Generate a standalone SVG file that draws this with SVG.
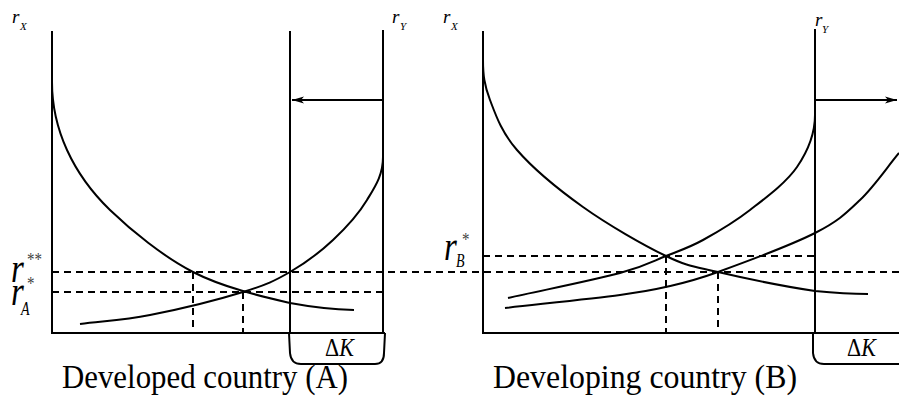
<svg xmlns="http://www.w3.org/2000/svg" width="899" height="405" viewBox="0 0 899 405">
<style>
.ax{stroke:#000;stroke-width:2;fill:none}
.cv{stroke:#000;stroke-width:2;fill:none}
.ds{stroke:#000;stroke-width:2;fill:none;stroke-dasharray:7 5}
.t{font-family:"Liberation Serif","Times New Roman",serif;fill:#000}
.i{font-style:italic}
.st{fill:#444;font-style:normal}
</style>
<defs>
<marker id="ah" markerUnits="userSpaceOnUse" markerWidth="14" markerHeight="10" refX="12" refY="5" orient="auto">
<path d="M12,5 L0,1.5 L3,5 L0,8.5 Z" fill="#000"/>
</marker>
</defs>
<rect width="899" height="405" fill="#fff"/>
<g id="panel-A">
<g id="axes-A">
<path class="ax" d="M52,31 V333 H385"/>
<path class="ax" d="M290,31 V333"/>
<path class="ax" d="M383,30 V333"/>
<path class="ax" d="M289,333 L290,353 Q291,364 301,364 L375,364 Q384,364 384,353 L385,333"/>
</g>
<g id="curves-A">
<path class="cv" d="M52,82 C52,107 57.3,128.7 67,150 C76.7,171.3 89,189.7 110,210 C131,230.3 163,256.5 193,272 C223,287.5 263.2,296.7 290,303 C316.8,308 335,309.5 354,310"/>
<path class="cv" d="M80,324 C103.3,321 122.8,320.3 150,315 C177.2,309.7 219.7,299.2 243,292 C266.3,284.8 275,280.7 290,272 C305,263.3 320.2,252 333,240 C345.8,228 358.7,213.8 367,200 C375.3,186.2 383,175 383,157"/>
</g>
<g id="dashes-A">
<path class="ds" d="M52,292 H383"/>
<path class="ds" d="M193,272 V333"/>
<path class="ds" d="M243,292 V333"/>
</g>
<g id="labels-A">
<text class="t i" x="12" y="23" font-size="19">r<tspan x="20" y="30" font-size="11">X</tspan></text>
<text class="t i" x="392" y="23" font-size="19">r<tspan x="400" y="30" font-size="11">Y</tspan></text>
<text class="t i" transform="translate(11,282) scale(1,1.3)" font-size="33">r<tspan class="st" x="16" y="-12.3" font-size="15">**</tspan><tspan x="0" y="17.7">r</tspan><tspan class="st" x="16" y="6" font-size="15">*</tspan><tspan x="10" y="25.4" font-size="14">A</tspan></text>
<text class="t" transform="translate(325,356) scale(1,1.1)" font-size="22">Δ<tspan class="i">K</tspan></text>
<text class="t" transform="translate(62,388) scale(1,1.3)" font-size="26" textLength="286" lengthAdjust="spacingAndGlyphs">Developed country (A)</text>
</g>
</g>
<g id="panel-B">
<g id="axes-B">
<path class="ax" d="M483,31 V333 H899"/>
<path class="ax" d="M815,29 V333"/>
<path class="ax" d="M813,333 L813,353 Q814,364 824,364 L899,364"/>
</g>
<g id="curves-B">
<path class="cv" d="M483,60 C483,75 484.3,85 490,100 C495.7,115 501.5,132.2 517,150 C532.5,167.8 558.2,189.3 583,207 C607.8,224.7 643.5,245.2 666,256 C688.5,266.8 693.2,266.2 718,272 C742.8,277.8 790,287.3 815,291 C835,293 855,294 868,294"/>
<path class="cv" d="M508,298 C545.3,289.7 593.7,280 620,273 C646.3,266 652.2,261.5 666,256 C679.8,250.5 689,247.7 703,240 C717,232.3 734.3,222.2 750,210 C765.7,197.8 786.2,182.8 797,167 C807.8,151.2 815,135 815,115"/>
<path class="cv" d="M505,308 C543.3,303.7 593.2,298.5 620,295 C646.8,291.5 649.7,290.8 666,287 C682.3,283.2 693.2,281 718,272 C742.8,263 791.3,245 815,233 C838.7,221 846,213.3 860,200 C874,186.7 886,168.7 899,153"/>
</g>
<g id="dashes-B">
<path class="ds" d="M483,256 H815"/>
<path class="ds" d="M666,256 V333"/>
<path class="ds" d="M718,272 V333"/>
</g>
<g id="labels-B">
<text class="t i" x="443" y="23" font-size="19">r<tspan x="451" y="30" font-size="11">X</tspan></text>
<text class="t i" x="815" y="26" font-size="19">r<tspan x="822" y="33" font-size="11">Y</tspan></text>
<text class="t i" transform="translate(444,260) scale(1,1.3)" font-size="33">r<tspan class="st" x="18" y="-10.8" font-size="15">*</tspan><tspan x="12" y="5.4" font-size="14">B</tspan></text>
<text class="t" transform="translate(847,356) scale(1,1.1)" font-size="22">Δ<tspan class="i">K</tspan></text>
<text class="t" transform="translate(493,388) scale(1,1.3)" font-size="26" textLength="304" lengthAdjust="spacingAndGlyphs">Developing country (B)</text>
</g>
</g>
<g id="connectors">
<path class="ds" d="M52,272 H899"/>
<path class="ax" d="M383,100 H292" marker-end="url(#ah)"/>
<path class="ax" d="M815,100 H897" marker-end="url(#ah)"/>
</g>
</svg>
